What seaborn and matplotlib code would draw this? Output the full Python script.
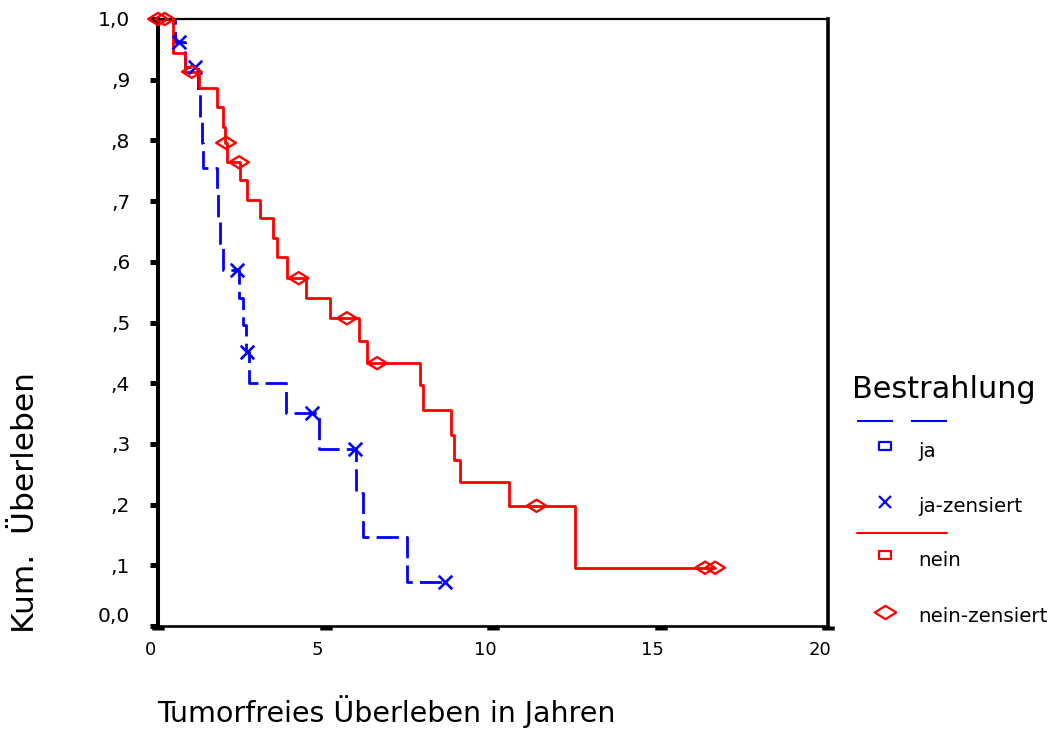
import numpy as np
import pandas as pd
import matplotlib
matplotlib.use("Agg")
import matplotlib.pyplot as plt
import matplotlib.transforms as mtransforms
from matplotlib.lines import Line2D
from matplotlib.path import Path
import seaborn as sns

# ---- Kaplan-Meier estimates: event times (years) and survival after each event
ja_event_t = [0.50, 0.80, 1.20, 1.25, 1.30, 1.35, 1.76, 1.80, 1.85, 1.94,
              2.42, 2.54, 2.63, 2.72, 3.82, 4.80, 5.91, 6.12, 7.43]
ja_event_s = [0.962, 0.921, 0.879, 0.838, 0.796, 0.754, 0.712, 0.670, 0.628, 0.586,
              0.541, 0.496, 0.451, 0.401, 0.351, 0.292, 0.219, 0.146, 0.073]
ja_cens_t = [0.63, 1.10, 2.36, 2.65, 4.60, 5.88, 8.57]
ja_cens_s = [0.962, 0.921, 0.586, 0.451, 0.351, 0.292, 0.073]

nein_event_t = [0.45, 0.81, 1.22, 1.76, 1.94, 2.00, 2.06, 2.45, 2.66, 3.04,
                3.43, 3.55, 3.85, 4.42, 5.13, 6.00, 6.24, 7.82, 7.91, 8.76,
                8.84, 9.01, 10.48, 12.45]
nein_event_s = [0.944, 0.913, 0.886, 0.855, 0.822, 0.796, 0.764, 0.735, 0.702, 0.672,
                0.639, 0.608, 0.573, 0.540, 0.507, 0.469, 0.433, 0.397, 0.356, 0.315,
                0.274, 0.237, 0.198, 0.096]
nein_cens_t = [0.00, 0.20, 1.01, 2.03, 2.42, 4.20, 5.64, 6.54, 11.30, 16.33, 16.63]
nein_cens_s = [1.0, 1.0, 0.913, 0.796, 0.764, 0.573, 0.507, 0.433, 0.198, 0.096, 0.096]

groups = ["ja", "nein"]
legend_labels = ["ja", "ja-zensiert", "nein", "nein-zensiert"]
legend_title = "Bestrahlung"
x_ticks = [0, 5, 10, 15, 20]
y_ticks = [0.0, 0.1, 0.2, 0.3, 0.4, 0.5, 0.6, 0.7, 0.8, 0.9, 1.0]
y_tick_labels = ["0,0", ",1", ",2", ",3", ",4", ",5", ",6", ",7", ",8", ",9", "1,0"]
x_label = "Tumorfreies Überleben in Jahren"
y_label = "Kum.  Überleben"

BLUE = "#0000ff"
RED = "#ff0000"


def step_frame(name, ev_t, ev_s, c_t):
    t = [0.0] + list(ev_t)
    s = [1.0] + list(ev_s)
    end = max(c_t)
    if end > t[-1]:
        t.append(end)
        s.append(s[-1])
    return pd.DataFrame({"group": name, "t": t, "s": s})


curves = pd.concat([
    step_frame("ja", ja_event_t, ja_event_s, ja_cens_t),
    step_frame("nein", nein_event_t, nein_event_s, nein_cens_t),
], ignore_index=True)

sns.set_style("white")
plt.rcParams["font.family"] = ["DejaVu Sans"]
plt.rcParams["text.color"] = "black"
plt.rcParams["axes.labelcolor"] = "black"
plt.rcParams["xtick.color"] = "black"
plt.rcParams["ytick.color"] = "black"

W, H = 1055, 740
fig = plt.figure(figsize=(W / 100, H / 100), dpi=100)


def fx(px):
    return px / W


def fy(py):
    return 1 - py / H


ax = fig.add_axes([fx(158), fy(626), fx(828) - fx(158), fy(19) - fy(626)])

sns.lineplot(data=curves, x="t", y="s", hue="group", style="group",
             hue_order=groups, style_order=groups,
             palette={"ja": BLUE, "nein": RED},
             dashes={"ja": (8, 2.6), "nein": ""},
             drawstyle="steps-post", estimator=None, sort=False,
             linewidth=2.0, legend=False, ax=ax)
for ln in ax.lines:
    ln.set_clip_on(False)

# censored observations
sns.scatterplot(x=ja_cens_t, y=ja_cens_s, marker="x", s=95, color=BLUE,
                linewidth=1.9, ax=ax, zorder=4, clip_on=False, legend=False)

diamond = Path([(-1, 0), (0, 0.62), (1, 0), (0, -0.62), (-1, 0)],
               [Path.MOVETO, Path.LINETO, Path.LINETO, Path.LINETO, Path.CLOSEPOLY])
sns.scatterplot(x=nein_cens_t, y=nein_cens_s, marker=diamond, s=200, color=RED,
                ax=ax, zorder=4, clip_on=False, legend=False)
dcoll = ax.collections[-1]
dcoll.set_facecolor("none")
dcoll.set_edgecolor(RED)
dcoll.set_linewidth(1.7)

ax.set_xlim(0, 20)
ax.set_ylim(0, 1)
ax.set_xticks(x_ticks)
ax.set_xticklabels([str(v) for v in x_ticks])
ax.set_yticks(y_ticks)
ax.set_yticklabels(y_tick_labels)
ax.set_xlabel("")
ax.set_ylabel("")

for side, lw in {"left": 2.9, "right": 2.6, "top": 1.6, "bottom": 1.9}.items():
    ax.spines[side].set_visible(True)
    ax.spines[side].set_color("black")
    ax.spines[side].set_linewidth(lw)

ax.tick_params(axis="x", direction="out", length=3, width=9, pad=8,
               labelsize=13, colors="black", bottom=True)
ax.tick_params(axis="y", direction="out", length=6, width=3.6, pad=14,
               labelsize=14.5, colors="black", left=True)

shift_left = mtransforms.ScaledTranslation(-8 / 100, 0, fig.dpi_scale_trans)
for lab in ax.get_xticklabels():
    lab.set_transform(lab.get_transform() + shift_left)
zero_lab = ax.get_yticklabels()[0]
zero_lab.set_transform(zero_lab.get_transform()
                       + mtransforms.ScaledTranslation(0, 11 / 100, fig.dpi_scale_trans))

# axis titles
fig.text(fx(157), fy(722), x_label, fontsize=20.5, ha="left", va="baseline")
fig.text(fx(34), fy(633), y_label, fontsize=22.5, rotation=90,
         rotation_mode="anchor", ha="left", va="baseline")

# legend block
fig.text(fx(852), fy(398), legend_title, fontsize=21.8, ha="left", va="baseline")
fig.add_artist(Line2D([fx(857), fx(947)], [fy(421), fy(421)], color=BLUE,
                      linewidth=1.5, dashes=(17.3, 8.6), transform=fig.transFigure))
fig.add_artist(Line2D([fx(857), fx(947)], [fy(533), fy(533)], color=RED,
                      linewidth=1.5, transform=fig.transFigure))
rect = Path([(-1, -0.6), (1, -0.6), (1, 0.6), (-1, 0.6), (-1, -0.6)],
            [Path.MOVETO, Path.LINETO, Path.LINETO, Path.LINETO, Path.CLOSEPOLY])
legend_marks = [
    (446, rect, BLUE, 8.5),
    (502, "x", BLUE, 8.5),
    (555, rect, RED, 8.5),
    (612, diamond, RED, 15.5),
]
for py, mk, col, ms in legend_marks:
    fig.add_artist(Line2D([fx(885)], [fy(py)], marker=mk, markersize=ms,
                          markerfacecolor="none", markeredgecolor=col,
                          markeredgewidth=1.6, linestyle="none",
                          transform=fig.transFigure))
for py, txt in zip([457, 512, 566, 622], legend_labels):
    fig.text(fx(918), fy(py), txt, fontsize=14.3, ha="left", va="baseline")

fig.savefig("out.png", dpi=100, facecolor="white")
